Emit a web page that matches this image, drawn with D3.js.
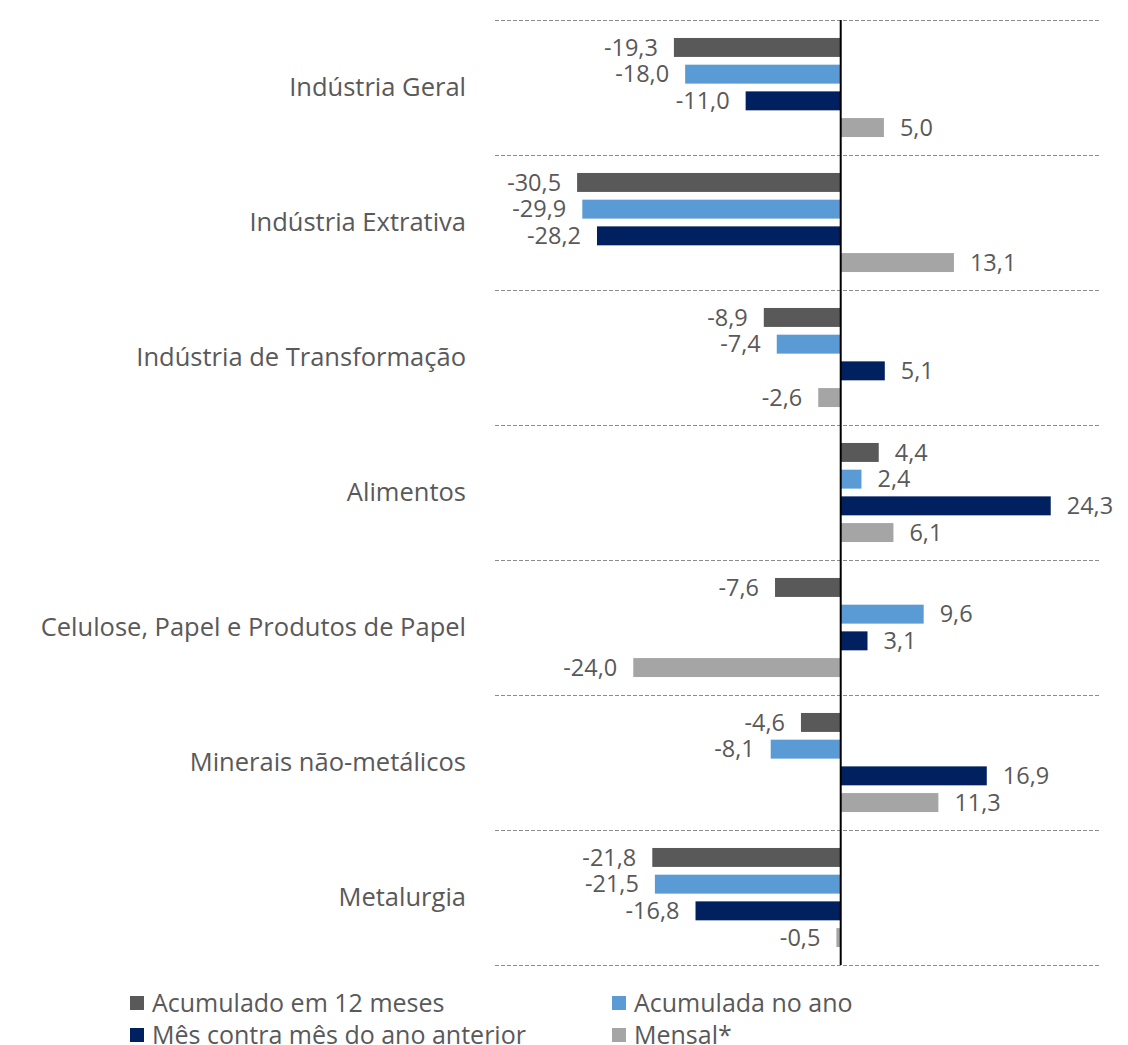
<!DOCTYPE html>
<html>
<head>
<meta charset="utf-8">
<script src="https://cdn.jsdelivr.net/npm/d3@7"></script>
<style>
  body { margin: 0; background: #fff; }
  text { font-family: "Open Sans", "Noto Sans", sans-serif; fill: #595959; }
</style>
</head>
<body>
<svg id="chart" width="1128" height="1045"></svg>
<script>
const categories = ['Indústria Geral', 'Indústria Extrativa', 'Indústria de Transformação', 'Alimentos',
  'Celulose, Papel e Produtos de Papel', 'Minerais não-metálicos', 'Metalurgia'];
const seriesNames = ['Acumulado em 12 meses', 'Acumulada no ano', 'Mês contra mês do ano anterior', 'Mensal*'];
const acum12 = [-19.3, -30.5, -8.9, 4.4, -7.6, -4.6, -21.8];
const acumAno = [-18.0, -29.9, -7.4, 2.4, 9.6, -8.1, -21.5];
const mesAno = [-11.0, -28.2, 5.1, 24.3, 3.1, 16.9, -16.8];
const mensal = [5.0, 13.1, -2.6, 6.1, -24.0, 11.3, -0.5];
const seriesValues = [acum12, acumAno, mesAno, mensal];
const colors = ['#595959', '#5B9BD5', '#002060', '#A5A5A5'];

const svg = d3.select('#chart');

// table of rows for drawing
const rows = [];
categories.forEach((c, i) => {
  seriesNames.forEach((s, j) => rows.push({ cat: c, key: s, idx: j, value: seriesValues[j][i] }));
});

const x = d3.scaleLinear().domain([-40, 30]).range([495, 1100]);
const y = d3.scaleBand().domain(categories).range([20, 965]);
const yIn = d3.scaleBand().domain(seriesNames).range([0, y.bandwidth()])
  .paddingInner(0.29).paddingOuter(0.673);
const color = d3.scaleOrdinal().domain(seriesNames).range(colors);

const fmt = v => d3.format('.1f')(v).replace('.', ',').replace('−', '-');

// dashed gridlines at band edges
const edges = categories.map(c => y(c)).concat([y.range()[1]]);
svg.append('g').selectAll('line')
  .data(edges).enter()
  .append('line')
  .attr('x1', x.range()[0]).attr('x2', x.range()[1])
  .attr('y1', d => d + 0.5).attr('y2', d => d + 0.5)
  .attr('stroke', '#8c8c8c')
  .attr('stroke-width', 1)
  .attr('stroke-dasharray', '4,2');

// bars
const g = svg.append('g');
g.selectAll('rect')
  .data(rows).enter()
  .append('rect')
  .attr('x', d => Math.min(x(0), x(d.value)))
  .attr('y', d => y(d.cat) + yIn(d.key))
  .attr('width', d => Math.abs(x(d.value) - x(0)))
  .attr('height', yIn.bandwidth())
  .attr('fill', d => color(d.key));

// value labels
g.selectAll('.val')
  .data(rows).enter()
  .append('text')
  .attr('class', 'val')
  .attr('x', d => d.value < 0 ? x(d.value) - 16 : x(d.value) + 16)
  .attr('y', d => y(d.cat) + yIn(d.key) + yIn.bandwidth() / 2 + 2)
  .attr('text-anchor', d => d.value < 0 ? 'end' : 'start')
  .attr('dominant-baseline', 'middle')
  .style('font-size', '23.5px')
  .text(d => fmt(d.value));

// zero axis
svg.append('line')
  .attr('x1', x(0)).attr('x2', x(0))
  .attr('y1', y.range()[0]).attr('y2', y.range()[1])
  .attr('stroke', '#000').attr('stroke-width', 2);

// category labels
svg.append('g').selectAll('text')
  .data(categories).enter()
  .append('text')
  .attr('x', 466)
  .attr('y', d => y(d) + y.bandwidth() / 2 + 2)
  .attr('text-anchor', 'end')
  .attr('dominant-baseline', 'middle')
  .style('font-size', '25.5px')
  .text(d => d);

// legend
const legPos = [[130, 1003], [612, 1003], [130, 1035], [612, 1035]];
const legend = svg.append('g').selectAll('g')
  .data(seriesNames).enter()
  .append('g')
  .attr('transform', (d, i) => `translate(${legPos[i][0]},${legPos[i][1]})`);
legend.append('rect')
  .attr('x', 0).attr('y', -7).attr('width', 14).attr('height', 14)
  .attr('fill', d => color(d));
legend.append('text')
  .attr('x', 22).attr('y', 2)
  .attr('dominant-baseline', 'middle')
  .style('font-size', '25px')
  .text(d => d);
</script>
</body>
</html>
